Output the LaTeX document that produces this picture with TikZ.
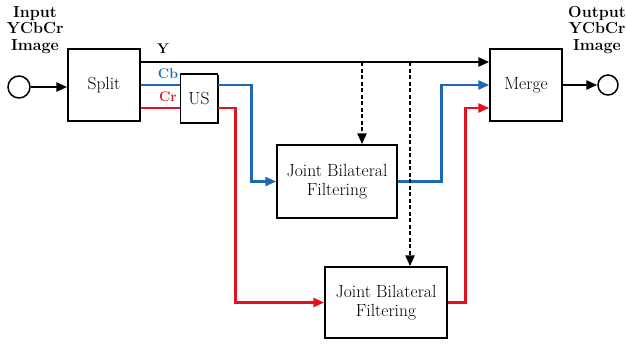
\documentclass[tikz,border=0pt]{standalone}
\usetikzlibrary{arrows.meta,positioning,calc,shadows}
\definecolor{cbblue}{RGB}{28,104,178}
\definecolor{crred}{RGB}{226,18,32}
\begin{document}
\begin{tikzpicture}[x=1pt,y=-1pt,font=\fontsize{17.5}{19}\selectfont,>={Triangle[length=11pt,width=9pt]},block/.style={draw, line width=1.5pt, fill=white, align=center, inner sep=0pt, drop shadow={shadow xshift=1.4pt, shadow yshift=-1.4pt, fill=black, opacity=1}},port/.style={circle, draw, line width=1.5pt, fill=white, minimum size=22pt, inner sep=0pt},io/.style={font=\bfseries\fontsize{16}{16.5}\selectfont, align=center},chan/.style={font=\bfseries\fontsize{14}{14}\selectfont},sig/.style={line width=2.6pt},tap/.style={line width=2.6pt, dash pattern=on 4pt off 2.5pt}]
\useasboundingbox (0,0) rectangle (626,343);
% blocks
\node[port] (in) at (19,87) {};\node[io] (inlbl) at (35,30) {Input\\YCbCr\\Image};
\node[block, minimum width=72pt, minimum height=72pt] (split) at (104,85) {Split};
\node[block, minimum width=37pt, minimum height=49pt] (us) at (199,98.5) {US};
\node[block, minimum width=120pt, minimum height=73pt] (jbf1) at (337,181.5) {Joint Bilateral\\Filtering};
\node[block, minimum width=122pt, minimum height=71pt] (jbf2) at (386,302.5) {Joint Bilateral\\Filtering};
\node[block, minimum width=72pt, minimum height=72pt] (merge) at (526,85) {Merge};
\node[port, minimum size=20pt] (out) at (608,85) {};\node[io] (outlbl) at (597,30) {Output\\YCbCr\\Image};
\coordinate (d1) at (362,62);\coordinate (d2) at (410,62);\coordinate (cbrow) at (0,85);\coordinate (crrow) at (0,108);
% signals
\draw[->, sig] (in) -- (split.west |- in);\draw[->, sig] (merge.east) -- (out.west);
\draw[->, sig] (split.east |- d1) -- (merge.west |- d1);\node[chan] (ylbl) at (163,49) {Y};
\draw[sig, cbblue] (split.east |- cbrow) -- (us.west |- cbrow);\node[chan, cbblue] (cblbl) at (168,74) {Cb};
\draw[sig, crred] (split.east |- crrow) -- (us.west |- crrow);\node[chan, crred] (crlbl) at (168,97) {Cr};
\draw[->, sig, cbblue] (us.east |- cbrow) -| ([xshift=-25pt]jbf1.west) -- (jbf1.west);
\draw[->, sig, cbblue] (jbf1.east) -- ++(44,0) |- (merge.west);
\draw[->, sig, crred] (us.east |- crrow) -| ([xshift=-89pt]jbf2.west) -- (jbf2.west);
\draw[->, sig, crred] (jbf2.east) -- ++(18,0) |- (merge.west |- crrow);
% guidance taps
\draw[->, tap] (d1) -- (jbf1.north -| d1);\draw[->, tap] (d2) -- (jbf2.north -| d2);
\end{tikzpicture}
\end{document}
